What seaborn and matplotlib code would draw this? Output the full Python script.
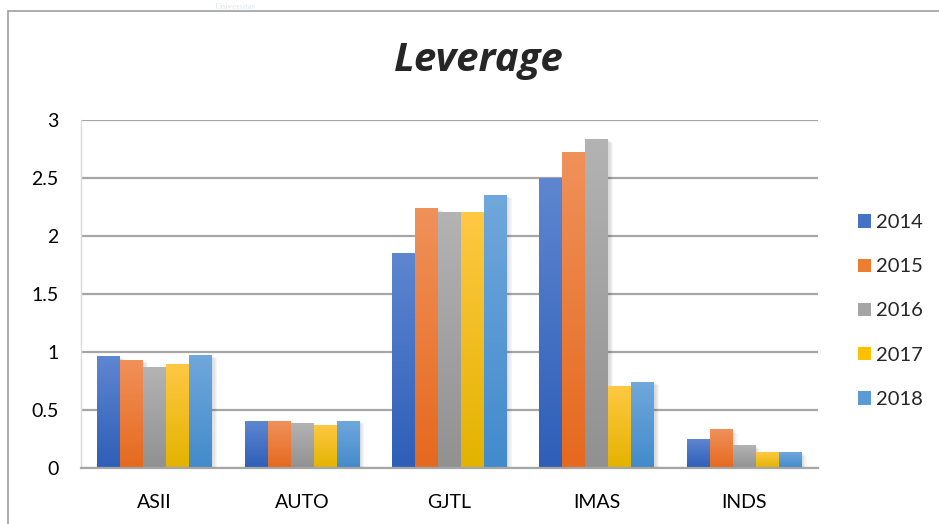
import numpy as np
import pandas as pd
import matplotlib.pyplot as plt
import seaborn as sns
from matplotlib.colors import to_rgb
from matplotlib.lines import Line2D
from matplotlib.patches import Patch, Rectangle

# data
companies = ['ASII', 'AUTO', 'GJTL', 'IMAS', 'INDS']
years = ['2014', '2015', '2016', '2017', '2018']
lev_2014 = [0.96, 0.405, 1.85, 2.50, 0.25]
lev_2015 = [0.93, 0.405, 2.24, 2.72, 0.33]
lev_2016 = [0.87, 0.38, 2.20, 2.83, 0.19]
lev_2017 = [0.89, 0.37, 2.20, 0.70, 0.13]
lev_2018 = [0.97, 0.405, 2.35, 0.74, 0.13]

values = [lev_2014, lev_2015, lev_2016, lev_2017, lev_2018]
df = pd.DataFrame({
    'Perusahaan': companies * len(years),
    'Tahun': np.repeat(years, len(companies)),
    'Leverage': np.concatenate(values),
})

# Excel-like colours: base / top (light) / bottom (dark)
base = ['#4472C4', '#ED7D31', '#A5A5A5', '#FFC000', '#5B9BD5']
top_c = ['#5E86D0', '#F0915A', '#B3B3B3', '#FFC843', '#70A7DC']
bot_c = ['#2E5EB8', '#E5691E', '#919191', '#E3B300', '#428BCB']
palette = dict(zip(years, base))

sns.set_theme(style='white')
plt.rcParams['font.family'] = ['Lato', 'DejaVu Sans']

fig = plt.figure(figsize=(9.39, 5.24), dpi=100)
ax = fig.add_axes([81 / 939, 56 / 524, 737 / 939, 348 / 524])

sns.barplot(data=df, x='Perusahaan', y='Leverage', hue='Tahun', hue_order=years,
            order=companies, palette=palette, width=0.78, saturation=1,
            legend=False, ax=ax)

ax.set_ylim(0, 3)
ax.set_xlim(-0.5, 4.5)
ax.set_yticks(np.arange(0, 3.01, 0.5))
ax.set_yticklabels(['0', '0.5', '1', '1.5', '2', '2.5', '3'])
ax.yaxis.grid(True, color='#a6a6a6', linewidth=1.6)
ax.set_axisbelow(True)

# gradient fill + soft shadow for each bar
for i, cont in enumerate(ax.containers):
    c_top = np.array(to_rgb(top_c[i]))
    c_bot = np.array(to_rgb(bot_c[i]))
    grad = np.linspace(c_bot, c_top, 64).reshape(64, 1, 3)
    for bar in cont:
        x0, y0 = bar.get_x(), bar.get_y()
        w, h = bar.get_width(), bar.get_height()
        for k in range(1, 5):
            ax.add_patch(Rectangle((x0 + 0.004 * k, y0 - 0.006 * k), w + 0.004 * k, h,
                                   facecolor='black', alpha=0.035, linewidth=0, zorder=1.5))
        ax.imshow(grad, extent=(x0, x0 + w, y0, y0 + h), origin='lower',
                  aspect='auto', zorder=2, interpolation='bilinear')
        bar.set_facecolor('none')
        bar.set_edgecolor('none')

ax.set_xlim(-0.5, 4.5)
ax.set_ylim(0, 3)

sns.despine(ax=ax, top=True, right=True, left=False, bottom=False)
ax.spines['left'].set_color('#d9d9d9')
ax.spines['left'].set_linewidth(1)
ax.spines['bottom'].set_color('#a6a6a6')
ax.spines['bottom'].set_linewidth(1.6)
ax.tick_params(axis='both', length=0, labelsize=14, colors='black')
ax.tick_params(axis='y', pad=16)
ax.tick_params(axis='x', pad=19)
ax.set_xlabel('')
ax.set_ylabel('')

fig.text(479 / 939, 1 - 61 / 524, 'Leverage', ha='center', va='center',
         fontsize=29, fontweight='bold', fontstyle='italic',
         family=['Open Sans', 'DejaVu Sans'])

handles = [Patch(facecolor=c, edgecolor='none') for c in base]
fig.legend(handles, years, loc='center left', bbox_to_anchor=(858 / 939, 1 - 311 / 524),
           frameon=False, fontsize=14.5, handlelength=0.65, handleheight=0.65,
           handletextpad=0.25, labelspacing=1.35, borderpad=0, borderaxespad=0)

# outer chart frame (cropped in the reference)
fig.add_artist(Line2D([8 / 939, 1], [1 - 11 / 524, 1 - 11 / 524], color='#a0a0a0', linewidth=1.2))
fig.add_artist(Line2D([8 / 939, 8 / 939], [0, 1 - 11 / 524], color='#a0a0a0', linewidth=1.2))

# faint page watermark above the frame
fig.text(235 / 939, 1 - 9 / 524, 'Universitas', ha='center', va='baseline',
         fontsize=6.5, color='#dfe6ee', family=['Liberation Serif', 'DejaVu Serif'])

fig.savefig('out.png', dpi=100)
